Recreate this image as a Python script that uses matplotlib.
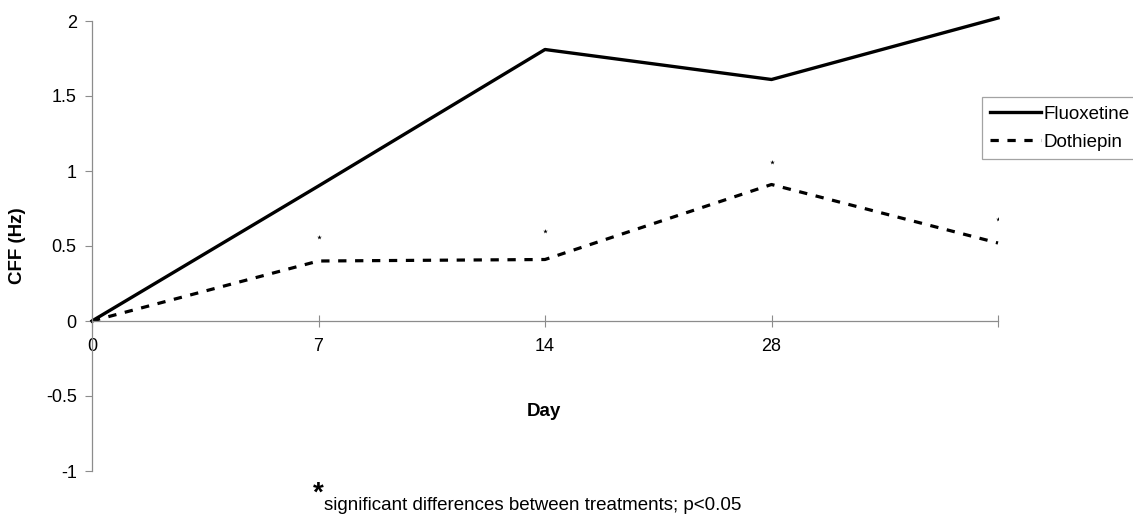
import numpy as np
import matplotlib.pyplot as plt

plt.rcParams['font.family'] = ['Liberation Sans', 'DejaVu Sans']

# days on the x axis (last one unlabelled in the original)
day_labels = ["0", "7", "14", "28", ""]
fluoxetine = [0.0, 0.90, 1.81, 1.61, 2.02]
dothiepin = [0.0, 0.40, 0.41, 0.91, 0.52]
# significance stars
star_idx = [1, 2, 3, 4]
star_y = [0.56, 0.60, 1.06, 0.68]

x = np.arange(len(day_labels))
grey = "#8c8c8c"

fig = plt.figure(figsize=(11.33, 5.16), dpi=100)
ax = fig.add_axes([92/1133, 1 - 471/516, (998 - 92)/1133, 450/516])

ax.plot(x, fluoxetine, color="black", linewidth=2.4, label="Fluoxetine", clip_on=False)
ax.plot(x, dothiepin, color="black", linewidth=2.3, linestyle=(0, (2.6, 2.7)),
        label="Dothiepin", clip_on=False)
ax.scatter(x[star_idx], star_y, marker="*", s=12, color="black", linewidths=0)

ax.set_xlim(0, 4)
ax.set_ylim(-1, 2)
ax.set_yticks([-1, -0.5, 0, 0.5, 1, 1.5, 2])
ax.set_yticklabels(["-1", "-0.5", "0", "0.5", "1", "1.5", "2"])
ax.set_xticks(x)
ax.set_xticklabels(day_labels)

for s in ["top", "right"]:
    ax.spines[s].set_visible(False)
ax.spines["bottom"].set_position(("data", 0))
ax.spines["bottom"].set_color(grey)
ax.spines["left"].set_color(grey)
ax.spines["bottom"].set_linewidth(0.9)
ax.spines["left"].set_linewidth(0.9)
ax.tick_params(axis="x", direction="inout", length=8, color=grey, labelsize=13, pad=8)
ax.tick_params(axis="y", direction="out", length=5, color=grey, labelsize=13, pad=6)

ax.set_ylabel("CFF (Hz)", fontsize=13.5, fontweight="bold", labelpad=14)
fig.text(544/1133, 1 - 412/516, "Day", fontsize=13.5, fontweight="bold",
         ha="center", va="center")
fig.text(313/1133, 1 - 494/516, "*", fontsize=20, fontweight="bold", ha="left", va="center")
fig.text(324/1133, 1 - 505/516, "significant differences between treatments; p<0.05",
         fontsize=13.5, ha="left", va="center")

leg = fig.legend(loc="upper left", bbox_to_anchor=(982/1133, 1 - 97/516),
                 fontsize=13.5, frameon=True, fancybox=False, handlelength=2.7,
                 handletextpad=0.15, borderpad=0.45, labelspacing=0.6, borderaxespad=0)
leg.get_frame().set_edgecolor(grey)
leg.get_frame().set_linewidth(0.9)

fig.savefig("out.png", dpi=100)
